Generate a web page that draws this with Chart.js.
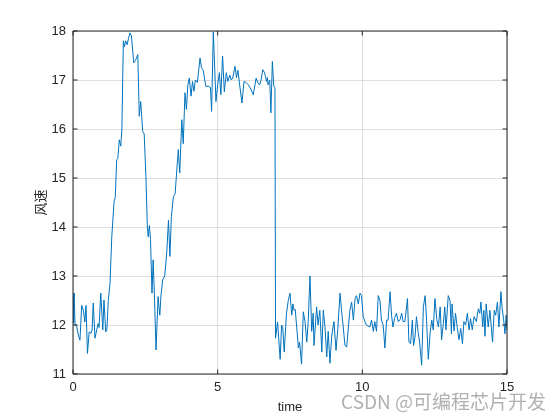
<!DOCTYPE html>
<html lang="zh">

<head>
    <meta charset="UTF-8">
    <title>风速</title>
    <style>
        body {
            margin: 0;
            background-color: #ffffff;
        }

        .chart-container {
            width: 560px;
            height: 420px;
        }
    </style>
</head>

<body>

    <div class="chart-container">
        <canvas id="windChart" width="560" height="420"></canvas>
    </div>

    <script src="https://cdn.jsdelivr.net/npm/chart.js"></script>
    <script>
// time (s) and wind speed
const times = [
    0.00, 0.02, 0.04, 0.07, 0.12, 0.18, 0.24, 0.30, 0.36, 0.41, 0.45, 0.50, 0.56, 0.62, 0.66, 0.70,
    0.76, 0.82, 0.87, 0.90, 0.96, 1.03, 1.07, 1.13, 1.17, 1.22, 1.28, 1.34, 1.42, 1.46, 1.51, 1.55,
    1.60, 1.65, 1.69, 1.74, 1.78, 1.82, 1.87, 1.92, 1.97, 2.02, 2.10, 2.16, 2.24, 2.29, 2.34, 2.41,
    2.46, 2.52, 2.57, 2.60, 2.64, 2.68, 2.73, 2.77, 2.82, 2.87, 2.94, 3.00, 3.04, 3.10, 3.17, 3.24,
    3.30, 3.35, 3.40, 3.47, 3.53, 3.58, 3.64, 3.69, 3.76, 3.81, 3.87, 3.92, 3.97, 4.02, 4.08, 4.13,
    4.18, 4.23, 4.30, 4.39, 4.44, 4.50, 4.59, 4.68, 4.75, 4.79, 4.85, 4.90, 4.94, 5.00, 5.06, 5.11,
    5.17, 5.23, 5.30, 5.35, 5.42, 5.47, 5.52, 5.60, 5.65, 5.70, 5.76, 5.84, 5.91, 5.98, 6.06, 6.14,
    6.23, 6.33, 6.39, 6.45, 6.50, 6.56, 6.62, 6.69, 6.72, 6.74, 6.80, 6.84, 6.89, 6.94, 6.98, 7.00,
    7.07, 7.16, 7.21, 7.25, 7.30, 7.38, 7.44, 7.50, 7.56, 7.60, 7.64, 7.68, 7.74, 7.79, 7.83, 7.90,
    7.96, 8.02, 8.08, 8.13, 8.19, 8.25, 8.28, 8.30, 8.33, 8.42, 8.47, 8.53, 8.60, 8.65, 8.71, 8.77,
    8.82, 8.88, 8.94, 9.02, 9.09, 9.15, 9.23, 9.28, 9.34, 9.40, 9.46, 9.51, 9.57, 9.63, 9.69, 9.75,
    9.80, 9.86, 9.92, 9.97, 10.03, 10.09, 10.14, 10.26, 10.32, 10.38, 10.43, 10.49, 10.55, 10.61, 10.66, 10.72,
    10.78, 10.84, 10.89, 10.96, 11.01, 11.06, 11.12, 11.18, 11.24, 11.30, 11.36, 11.41, 11.47, 11.56, 11.61, 11.67,
    11.73, 11.77, 11.82, 11.87, 11.93, 11.98, 12.05, 12.11, 12.17, 12.22, 12.28, 12.34, 12.40, 12.45, 12.51, 12.57,
    12.63, 12.69, 12.74, 12.80, 12.85, 12.89, 12.97, 13.03, 13.08, 13.10, 13.17, 13.22, 13.28, 13.34, 13.40, 13.46,
    13.51, 13.57, 13.63, 13.69, 13.74, 13.80, 13.86, 13.94, 14.01, 14.06, 14.10, 14.16, 14.20, 14.24, 14.28, 14.35,
    14.41, 14.50, 14.56, 14.61, 14.67, 14.72, 14.79, 14.83, 14.88, 14.93, 14.97, 15.00
];

const windSpeed = [
    12.65, 12.05, 12.65, 12.00, 12.00, 11.80, 11.69, 12.40, 12.30, 12.06, 12.40, 11.42, 11.86, 11.83, 11.90, 12.45,
    11.73, 11.90, 12.03, 11.95, 12.65, 11.90, 12.51, 11.86, 11.90, 12.50, 12.86, 13.80, 14.52, 14.60, 15.37, 15.40,
    15.78, 15.65, 15.99, 17.80, 17.68, 17.80, 17.72, 17.85, 17.96, 17.90, 17.35, 17.40, 17.52, 16.26, 16.56, 15.95,
    15.90, 15.03, 14.00, 13.80, 14.03, 13.74, 12.65, 13.33, 12.50, 11.49, 12.58, 12.20, 12.60, 12.92, 13.00, 13.47,
    14.14, 13.40, 14.21, 14.62, 14.68, 15.10, 15.58, 15.10, 16.19, 15.70, 16.74, 16.40, 16.90, 17.04, 16.67, 16.97,
    16.77, 17.00, 16.95, 17.45, 17.25, 17.20, 16.87, 16.87, 16.85, 16.36, 17.98, 17.20, 16.56, 16.90, 17.15, 16.70,
    17.49, 16.76, 17.15, 16.97, 17.10, 17.00, 17.04, 17.28, 17.05, 17.20, 16.90, 16.53, 16.97, 16.95, 16.90, 16.82,
    16.70, 17.04, 16.94, 16.90, 17.00, 17.21, 17.15, 16.97, 17.05, 16.90, 17.00, 16.33, 17.38, 16.87, 16.85, 11.73,
    12.06, 11.30, 12.00, 11.95, 11.45, 12.24, 12.50, 12.65, 12.20, 12.43, 12.30, 12.32, 11.90, 11.53, 11.65, 11.20,
    12.27, 12.07, 11.65, 12.07, 13.00, 11.87, 12.07, 12.24, 11.58, 12.37, 12.00, 12.30, 11.45, 12.30, 11.96, 11.35,
    11.87, 11.22, 11.77, 12.07, 11.48, 11.90, 12.65, 12.30, 11.96, 11.58, 11.55, 11.90, 12.30, 12.47, 12.10, 12.54,
    12.60, 12.43, 12.65, 12.60, 12.17, 12.07, 12.00, 11.96, 12.10, 11.87, 12.07, 11.87, 12.60, 12.50, 12.10, 12.00,
    11.53, 12.10, 12.10, 12.68, 12.20, 11.96, 12.15, 12.24, 12.07, 12.10, 12.24, 12.07, 12.07, 12.54, 11.65, 11.62,
    12.10, 11.58, 11.75, 12.17, 11.85, 11.65, 11.18, 12.37, 12.60, 12.10, 11.30, 11.82, 12.10, 11.90, 12.54, 12.13,
    11.96, 12.37, 11.70, 12.03, 12.37, 11.90, 12.60, 12.50, 11.82, 12.43, 11.88, 12.24, 11.95, 11.70, 11.93, 11.62,
    12.07, 12.00, 12.24, 11.90, 12.13, 11.90, 12.17, 12.07, 12.33, 12.24, 12.47, 11.96, 12.30, 11.77, 12.43, 11.96,
    12.30, 11.65, 12.30, 12.20, 12.47, 11.96, 12.68, 12.35, 12.13, 11.82, 12.20, 11.90
];

const xTicks = [0, 5, 10, 15];
const yTicks = [11, 12, 13, 14, 15, 16, 17, 18];

const axisColor = '#262626';
const tickFont = { family: 'Arial, "Liberation Sans", sans-serif', size: 13 };

// box around the axes with inward ticks on all four sides (MATLAB style)
const boxPlugin = {
    id: 'matlabBox',
    afterDraw(chart) {
        const ctx = chart.ctx;
        const area = chart.chartArea;
        const xs = chart.scales.x;
        const ys = chart.scales.y;
        const len = 4.5;

        ctx.save();
        ctx.strokeStyle = axisColor;
        ctx.lineWidth = 1;
        ctx.beginPath();
        ctx.rect(area.left, area.top, area.right - area.left, area.bottom - area.top);

        xTicks.forEach(v => {
            const px = xs.getPixelForValue(v);
            ctx.moveTo(px, area.bottom);
            ctx.lineTo(px, area.bottom - len);
            ctx.moveTo(px, area.top);
            ctx.lineTo(px, area.top + len);
        });
        yTicks.forEach(v => {
            const py = ys.getPixelForValue(v);
            ctx.moveTo(area.left, py);
            ctx.lineTo(area.left + len, py);
            ctx.moveTo(area.right, py);
            ctx.lineTo(area.right - len, py);
        });
        ctx.stroke();

        // watermark
        ctx.font = '19px "Noto Sans CJK SC", sans-serif';
        ctx.fillStyle = 'rgba(150, 150, 150, 0.75)';
        ctx.textAlign = 'right';
        ctx.textBaseline = 'middle';
        ctx.fillText('CSDN @可编程芯片开发', 546, 402);
        ctx.restore();
    }
};

const points = times.map((t, i) => ({ x: t, y: windSpeed[i] }));

const ctx = document.getElementById('windChart').getContext('2d');
new Chart(ctx, {
    type: 'line',
    data: {
        datasets: [{
            data: points,
            borderColor: '#0072BD',
            borderWidth: 1,
            pointRadius: 0,
            tension: 0,
            fill: false
        }]
    },
    options: {
        responsive: false,
        animation: false,
        layout: {
            padding: { top: 31, right: 53, bottom: 0, left: 0 }
        },
        plugins: {
            legend: { display: false },
            tooltip: { enabled: false }
        },
        scales: {
            x: {
                type: 'linear',
                min: 0,
                max: 15,
                afterBuildTicks: scale => { scale.ticks = xTicks.map(v => ({ value: v })); },
                afterFit: scale => { scale.height = 46; },
                ticks: { color: axisColor, font: tickFont, padding: 6, maxRotation: 0 },
                grid: { color: 'rgba(38, 38, 38, 0.15)', drawTicks: false },
                border: { display: false },
                title: {
                    display: true,
                    text: 'time',
                    color: axisColor,
                    font: tickFont,
                    padding: { top: 0, bottom: 5 }
                }
            },
            y: {
                min: 11,
                max: 18,
                afterBuildTicks: scale => { scale.ticks = yTicks.map(v => ({ value: v })); },
                afterFit: scale => { scale.width = 73; },
                ticks: { color: axisColor, font: tickFont, padding: 7 },
                grid: { color: 'rgba(38, 38, 38, 0.15)', drawTicks: false },
                border: { display: false },
                title: {
                    display: true,
                    text: '风速',
                    color: axisColor,
                    font: { family: '"Noto Sans CJK SC", sans-serif', size: 13 },
                    padding: { top: 32, bottom: 0 }
                }
            }
        }
    },
    plugins: [boxPlugin]
});
    </script>

</body>

</html>
